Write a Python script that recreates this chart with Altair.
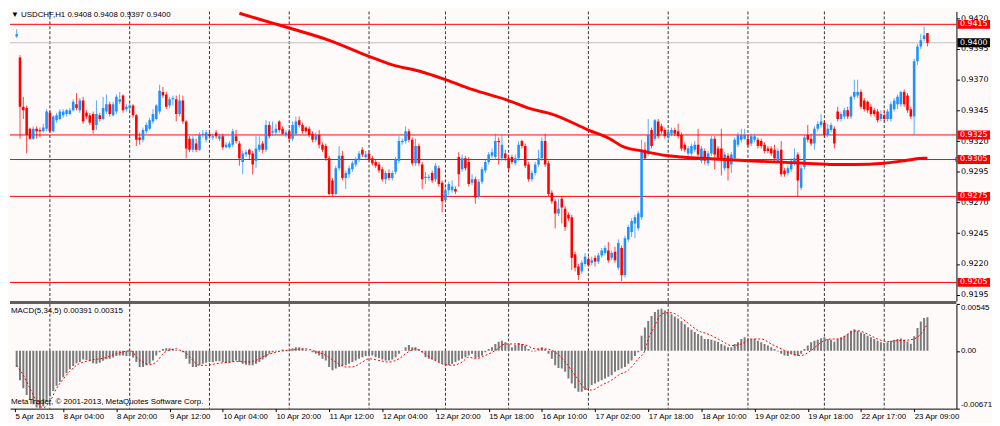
import altair as alt
import pandas as pd

# ---------------- data (prices in pips: price * 10000) ----------------
OPEN = [9408, 9406, 9405, 9388, 9348, 9347, 9330, 9322, 9330, 9329,
        9328, 9330, 9343, 9328, 9337, 9338, 9341, 9342, 9342, 9345,
        9350, 9345, 9353, 9343, 9341, 9342, 9333, 9341, 9338, 9344,
        9350, 9341, 9344, 9352, 9357, 9346, 9347, 9349, 9341, 9323,
        9321, 9328, 9330, 9336, 9338, 9344, 9360, 9358, 9349, 9354,
        9354, 9342, 9353, 9336, 9322, 9313, 9318, 9313, 9325, 9321,
        9326, 9323, 9327, 9322, 9324, 9315, 9315, 9317, 9324, 9318,
        9303, 9309, 9313, 9310, 9304, 9313, 9318, 9313, 9333, 9327,
        9327, 9336, 9330, 9325, 9328, 9322, 9326, 9337, 9333, 9331,
        9330, 9326, 9321, 9325, 9317, 9316, 9306, 9288, 9277, 9298,
        9308, 9290, 9293, 9297, 9301, 9305, 9313, 9307, 9310, 9306,
        9303, 9301, 9297, 9289, 9294, 9290, 9295, 9304, 9319, 9320,
        9328, 9321, 9302, 9316, 9301, 9290, 9290, 9294, 9289, 9298,
        9286, 9272, 9280, 9280, 9281, 9307, 9297, 9306, 9303, 9286,
        9289, 9275, 9287, 9296, 9303, 9308, 9307, 9320, 9306, 9310,
        9306, 9307, 9302, 9306, 9320, 9316, 9301, 9289, 9294, 9301,
        9306, 9320, 9302, 9278, 9271, 9261, 9273, 9265, 9260, 9258,
        9228, 9218, 9214, 9220, 9224, 9221, 9225, 9222, 9227, 9229,
        9231, 9225, 9230, 9217, 9233, 9211, 9240, 9246, 9253, 9249,
        9258, 9313, 9310, 9329, 9322, 9336, 9332, 9329, 9323, 9326,
        9329, 9328, 9325, 9317, 9310, 9310, 9313, 9317, 9304, 9312,
        9302, 9310, 9322, 9314, 9314, 9298, 9308, 9301, 9306, 9317,
        9321, 9322, 9322, 9318, 9321, 9321, 9320, 9317, 9314, 9314,
        9313, 9304, 9313, 9296, 9294, 9297, 9302, 9309, 9282, 9299,
        9325, 9322, 9318, 9330, 9333, 9335, 9325, 9329, 9330, 9344,
        9338, 9340, 9345, 9340, 9356, 9357, 9360, 9353, 9352, 9348,
        9345, 9344, 9338, 9341, 9338, 9338, 9346, 9350, 9350, 9360,
        9357, 9346, 9340, 9385, 9397, 9403, 9408]
HIGH = [9409, 9407, 9411, 9390, 9356, 9349, 9331, 9332, 9332, 9331,
        9334, 9346, 9345, 9341, 9343, 9346, 9346, 9346, 9347, 9354,
        9359, 9355, 9356, 9345, 9343, 9344, 9353, 9343, 9356, 9358,
        9352, 9352, 9358, 9360, 9358, 9350, 9351, 9350, 9342, 9327,
        9331, 9335, 9339, 9346, 9350, 9366, 9364, 9360, 9356, 9357,
        9357, 9358, 9357, 9337, 9324, 9324, 9322, 9327, 9329, 9329,
        9329, 9326, 9329, 9326, 9326, 9319, 9320, 9330, 9329, 9320,
        9312, 9313, 9314, 9312, 9324, 9324, 9320, 9337, 9336, 9336,
        9334, 9337, 9332, 9329, 9330, 9336, 9340, 9340, 9335, 9332,
        9332, 9328, 9327, 9329, 9319, 9318, 9308, 9290, 9300, 9316,
        9312, 9296, 9300, 9304, 9307, 9312, 9315, 9312, 9312, 9308,
        9305, 9303, 9299, 9296, 9297, 9296, 9307, 9324, 9322, 9332,
        9330, 9323, 9322, 9318, 9303, 9295, 9293, 9296, 9302, 9300,
        9288, 9282, 9287, 9288, 9283, 9311, 9309, 9308, 9307, 9293,
        9291, 9289, 9299, 9305, 9311, 9314, 9326, 9323, 9325, 9313,
        9308, 9309, 9309, 9320, 9321, 9318, 9303, 9296, 9303, 9313,
        9323, 9326, 9304, 9280, 9273, 9273, 9275, 9267, 9262, 9260,
        9230, 9220, 9223, 9229, 9226, 9226, 9227, 9229, 9233, 9235,
        9238, 9231, 9234, 9240, 9235, 9243, 9252, 9257, 9260, 9263,
        9321, 9319, 9338, 9331, 9338, 9338, 9334, 9331, 9330, 9331,
        9331, 9334, 9327, 9319, 9316, 9318, 9320, 9330, 9316, 9314,
        9312, 9324, 9324, 9316, 9330, 9311, 9310, 9311, 9323, 9327,
        9330, 9330, 9325, 9326, 9326, 9323, 9322, 9319, 9316, 9316,
        9317, 9314, 9320, 9298, 9300, 9306, 9314, 9311, 9300, 9325,
        9333, 9326, 9332, 9336, 9342, 9337, 9334, 9335, 9332, 9348,
        9344, 9347, 9348, 9357, 9370, 9370, 9362, 9355, 9353, 9350,
        9347, 9346, 9345, 9345, 9346, 9352, 9355, 9358, 9361, 9362,
        9359, 9348, 9387, 9399, 9407, 9413, 9408]
LOW = [9400, 9397, 9404, 9322, 9338, 9310, 9321, 9321, 9322, 9323,
       9327, 9328, 9327, 9327, 9335, 9337, 9339, 9340, 9341, 9344,
       9345, 9343, 9334, 9338, 9333, 9326, 9329, 9336, 9337, 9342,
       9340, 9340, 9342, 9350, 9343, 9344, 9345, 9339, 9316, 9317,
       9319, 9326, 9329, 9334, 9337, 9342, 9355, 9346, 9347, 9349,
       9336, 9340, 9334, 9306, 9311, 9311, 9311, 9312, 9323, 9319,
       9322, 9321, 9322, 9320, 9313, 9314, 9314, 9315, 9318, 9300,
       9293, 9307, 9305, 9293, 9298, 9311, 9310, 9311, 9322, 9324,
       9325, 9327, 9325, 9323, 9320, 9320, 9324, 9331, 9326, 9326,
       9323, 9319, 9319, 9314, 9311, 9304, 9276, 9275, 9276, 9296,
       9288, 9281, 9290, 9295, 9299, 9303, 9307, 9305, 9303, 9300,
       9298, 9294, 9287, 9285, 9288, 9288, 9293, 9302, 9317, 9318,
       9319, 9300, 9300, 9300, 9281, 9285, 9288, 9286, 9287, 9283,
       9262, 9270, 9276, 9278, 9277, 9283, 9295, 9296, 9283, 9284,
       9269, 9273, 9285, 9294, 9301, 9306, 9305, 9301, 9304, 9304,
       9296, 9301, 9300, 9304, 9314, 9298, 9287, 9287, 9292, 9299,
       9304, 9299, 9275, 9269, 9249, 9259, 9253, 9247, 9255, 9215,
       9214, 9207, 9212, 9218, 9218, 9219, 9218, 9220, 9225, 9227,
       9221, 9223, 9221, 9215, 9206, 9209, 9238, 9242, 9241, 9247,
       9256, 9305, 9308, 9314, 9320, 9322, 9326, 9322, 9321, 9324,
       9324, 9322, 9312, 9311, 9308, 9308, 9311, 9307, 9302, 9301,
       9300, 9308, 9297, 9304, 9292, 9296, 9288, 9294, 9304, 9315,
       9319, 9321, 9315, 9316, 9319, 9314, 9314, 9310, 9310, 9308,
       9304, 9302, 9291, 9291, 9292, 9295, 9300, 9275, 9280, 9297,
       9319, 9316, 9313, 9328, 9331, 9323, 9323, 9327, 9314, 9336,
       9336, 9338, 9338, 9338, 9354, 9355, 9346, 9344, 9343, 9340,
       9340, 9335, 9336, 9336, 9336, 9336, 9344, 9346, 9348, 9348,
       9343, 9338, 9325, 9382, 9395, 9401, 9397]
CLOSE = [9404, 9405, 9407, 9348, 9345, 9325, 9322, 9330, 9328, 9328,
         9331, 9344, 9328, 9340, 9341, 9344, 9344, 9345, 9345, 9352,
         9347, 9353, 9336, 9340, 9335, 9329, 9342, 9338, 9347, 9350,
         9342, 9350, 9356, 9354, 9345, 9348, 9349, 9341, 9321, 9321,
         9329, 9333, 9337, 9342, 9349, 9361, 9357, 9348, 9354, 9355,
         9342, 9353, 9336, 9314, 9313, 9322, 9313, 9325, 9326, 9327,
         9324, 9324, 9324, 9324, 9315, 9317, 9318, 9328, 9320, 9306,
         9310, 9311, 9309, 9301, 9314, 9317, 9313, 9333, 9324, 9328,
         9330, 9329, 9326, 9327, 9322, 9333, 9336, 9333, 9328, 9328,
         9325, 9321, 9325, 9317, 9313, 9306, 9277, 9277, 9298, 9308,
         9290, 9294, 9298, 9302, 9305, 9310, 9309, 9309, 9305, 9302,
         9300, 9296, 9289, 9294, 9290, 9294, 9305, 9320, 9320, 9328,
         9321, 9302, 9316, 9302, 9289, 9291, 9291, 9288, 9300, 9285,
         9271, 9280, 9285, 9283, 9279, 9293, 9306, 9298, 9285, 9289,
         9274, 9287, 9297, 9303, 9309, 9311, 9320, 9319, 9317, 9306,
         9298, 9303, 9306, 9317, 9316, 9300, 9289, 9294, 9301, 9306,
         9320, 9301, 9277, 9271, 9261, 9265, 9266, 9250, 9257, 9225,
         9217, 9211, 9221, 9226, 9219, 9223, 9222, 9227, 9231, 9233,
         9223, 9229, 9223, 9237, 9211, 9241, 9250, 9255, 9258, 9261,
         9313, 9306, 9325, 9316, 9337, 9324, 9328, 9324, 9327, 9329,
         9326, 9324, 9314, 9313, 9314, 9316, 9317, 9309, 9314, 9304,
         9310, 9322, 9309, 9306, 9306, 9309, 9298, 9309, 9321, 9325,
         9325, 9325, 9317, 9324, 9324, 9316, 9316, 9312, 9312, 9310,
         9306, 9312, 9293, 9293, 9298, 9304, 9306, 9288, 9298, 9323,
         9321, 9318, 9330, 9334, 9336, 9325, 9330, 9333, 9318, 9338,
         9342, 9345, 9340, 9356, 9360, 9360, 9348, 9346, 9345, 9342,
         9342, 9337, 9342, 9338, 9344, 9350, 9353, 9356, 9360, 9350,
         9345, 9340, 9385, 9397, 9402, 9406, 9400]

# MACD histogram, units of 0.00001
MACD_HIST = [-168, -176, -187, -340, -435, -512, -569, -619, -657, -671,
             -646, -588, -531, -466, -405, -359, -306, -260, -214, -176,
             -145, -130, -99, -107, -122, -145, -149, -138, -115, -96,
             -92, -76, -61, -53, -53, -61, -61, -76, -130, -187,
             -187, -168, -149, -111, -53, -15, 23, 31, 31, 23,
             11, 4, -15, -92, -149, -187, -187, -168, -149, -138,
             -130, -130, -122, -122, -130, -141, -141, -130, -111, -130,
             -149, -160, -168, -168, -149, -130, -99, -73, -34, -15,
             -8, 4, 15, 4, 11, 31, 42, 42, 31, 15,
             4, -15, -34, -53, -92, -111, -187, -225, -206, -187,
             -176, -168, -149, -130, -111, -92, -73, -61, -53, -53,
             -73, -84, -99, -111, -111, -99, -73, -34, 4, 42,
             69, 42, 42, 23, -15, -73, -92, -99, -111, -130,
             -149, -168, -168, -149, -130, -111, -92, -73, -53, -34,
             -84, -73, -53, -15, 23, 42, 80, 107, 118, 99,
             80, 42, 69, 92, 80, 61, 23, -8, -8, 23,
             42, 23, -34, -92, -168, -199, -206, -244, -321, -378,
             -435, -474, -474, -455, -435, -397, -378, -359, -340, -321,
             -302, -283, -244, -225, -206, -187, -149, -111, -60, -15,
             176, 271, 348, 405, 451, 481, 489, 470, 450, 425,
             400, 375, 345, 310, 275, 245, 220, 195, 176, 138,
             138, 130, 118, 107, 80, 61, 42, 42, 80, 99,
             138, 157, 145, 138, 138, 118, 99, 80, 61, 42,
             23, -8, -34, -53, -61, -34, -53, -61, -34, 23,
             61, 99, 118, 130, 145, 157, 138, 130, 107, 138,
             157, 176, 195, 233, 252, 233, 214, 195, 176, 157,
             138, 118, 99, 92, 99, 118, 130, 138, 143, 130,
             110, 83, 170, 266, 342, 381, 391]

# MACD signal line (read at these bars), units of 0.00001
SIG_I = [2, 4, 6, 8, 10, 12, 14, 16, 18, 20, 24, 27, 29, 31, 33, 36, 37, 38, 40,
         42, 44, 46, 48, 50, 51, 53, 55, 57, 59, 62, 66, 69, 71, 74, 77, 80, 83, 86, 89,
         92, 95, 98, 101, 103, 106, 108, 111, 114, 117, 120, 122, 124, 127, 130, 133, 136,
         138, 140, 143, 146, 149, 152, 155, 158, 161, 164, 167, 170, 173, 175, 178, 181,
         183, 186, 189, 191, 192, 194, 195, 197, 199, 202, 205, 207, 210, 214, 217, 220,
         223, 226, 229, 232, 235, 238, 241, 244, 247, 250, 252, 255, 258, 261, 264, 267,
         270, 272, 274, 276]
SIG_V = [-168, -283, -435, -588, -660, -588, -435, -329, -237, -168, -111, -92, -76,
         -46, -23, 0, -15, -73, -130, -160, -130, -34, 11, 23, 11, -27, -111, -168, -168,
         -149, -130, -122, -130, -111, -53, -15, 4, 15, 23, -8, -53, -130, -187, -187,
         -130, -92, -111, -130, -92, -8, 23, -15, -92, -149, -168, -130, -73, -92, -53,
         4, 80, 80, 69, 23, 23, -15, -130, -283, -435, -455, -397, -340, -283, -225, -92,
         4, 137, 290, 380, 440, 443, 380, 290, 235, 195, 118, 61, 80, 138, 138, 80, 23,
         -34, -53, 4, 99, 138, 138, 195, 233, 195, 138, 107, 118, 125, 138, 195, 315]

# moving average (red thick line), read at these bars, pips (enters at the top edge)
MA_I = [69, 79, 84, 96, 108, 115, 123, 131, 139, 150, 157, 163, 174, 181, 184,
        190, 198, 202, 208, 222, 239, 248, 254, 263, 269, 275, 276]
MA_V = [9424, 9416, 9412, 9402, 9389, 9382, 9377, 9370, 9362, 9353, 9346, 9342,
        9329, 9321, 9316, 9312, 9308, 9307, 9306, 9304, 9302, 9301, 9301, 9302, 9304,
        9306, 9306]

LEVELS = [9415, 9325, 9305, 9275, 9205]
BID = 9400
PRICE_TICKS = [9420, 9395, 9370, 9345, 9320, 9295, 9270, 9245, 9220, 9195]
GRID_BARS = [12, 36, 60, 84, 108, 131, 150, 174, 198, 222, 245, 263]
TICK_BARS = [0, 16, 32, 48, 64, 80, 96, 112, 128, 144, 160, 176, 192, 208, 224, 240, 256, 272]
TICK_LABELS = ["5 Apr 2013", "8 Apr 04:00", "8 Apr 20:00", "9 Apr 12:00", "10 Apr 04:00",
               "10 Apr 20:00", "11 Apr 12:00", "12 Apr 04:00", "12 Apr 20:00",
               "15 Apr 18:00", "16 Apr 10:00", "17 Apr 02:00", "17 Apr 18:00",
               "18 Apr 10:00", "19 Apr 02:00", "19 Apr 18:00", "22 Apr 17:00",
               "23 Apr 09:00"]
MACD_TICKS = [545, 0, -671]
MACD_TICK_LABELS = ["0.00545", "0.00", "-0.00671"]

HEADER = "\u25BC USDCHF,H1  0.9408 0.9408 0.9397 0.9400"
MACD_LABEL = "MACD(5,34,5) 0.00391 0.00315"
COPYRIGHT = "MetaTrader, \u00A9 2001-2013, MetaQuotes Software Corp."

# ---------------- layout ----------------
FONT = "Liberation Sans"
NUMFONT = "DejaVu Sans"
FS = 8
W = 958
H_MAIN = 293
H_MACD = 106
X0 = 5 / 3.4
X1 = 963 / 3.4
FIRST = 2  # first bar inside the visible window
BG = "#FFFAFA"

n = len(CLOSE)
bars = pd.DataFrame({
    "i": list(range(n)),
    "o": [v / 1e4 for v in OPEN],
    "h": [v / 1e4 for v in HIGH],
    "l": [v / 1e4 for v in LOW],
    "c": [v / 1e4 for v in CLOSE],
    "col": ["#1E90FF" if c > o else "#FF0000" for o, c in zip(OPEN, CLOSE)],
    "m": [v / 1e5 for v in MACD_HIST],
})
sig_df = pd.DataFrame({"i": SIG_I, "s": [v / 1e5 for v in SIG_V]})
ma_df = pd.DataFrame({"i": MA_I, "p": [v / 1e4 for v in MA_V]})
lev_df = pd.DataFrame({"p": [v / 1e4 for v in LEVELS]})
bid_df = pd.DataFrame({"p": [BID / 1e4]})
grid_df = pd.DataFrame({"i": GRID_BARS})
box_df = pd.DataFrame({
    "p": [v / 1e4 for v in LEVELS] + [BID / 1e4],
    "bg": ["#FF0000"] * len(LEVELS) + ["#000000"],
    "lab": [f"{v / 1e4:.4f}" for v in LEVELS] + [f"{BID / 1e4:.4f}"],
})
sq_df = pd.DataFrame({"p": [9305 / 1e4]})

xs = alt.Scale(domain=[X0, X1], nice=False, zero=False)
ys = alt.Scale(domain=[0.918992, 0.942545], nice=False, zero=False)
ms = alt.Scale(domain=[MACD_TICKS[2] / 1e5, MACD_TICKS[0] / 1e5], nice=False, zero=False)

yaxis = alt.Axis(orient="right", values=[v / 1e4 for v in PRICE_TICKS], format=".4f",
                 title=None, grid=False, tickSize=3, labelPadding=1, labelFlush=False,
                 labelOverlap=False, domainColor="black", tickColor="black",
                 labelFont=NUMFONT, labelFontSize=8)
lab_js = "[" + ",".join(f"'{t}'" for t in TICK_LABELS) + "]"
xaxis = alt.Axis(orient="bottom", values=[max(b, X0 + 0.03) for b in TICK_BARS],
                 labelExpr=f"{lab_js}[round(datum.value/16)]", title=None, grid=False,
                 tickSize=3, labelAlign="left", labelBaseline="top", labelPadding=1,
                 labelOverlap=False, labelBound=False, labelFlush=False,
                 domainColor="black", tickColor="black", labelFont=FONT, labelFontSize=8)
mlab_js = "[" + ",".join(f"'{t}'" for t in MACD_TICK_LABELS) + "]"
maxis = alt.Axis(orient="right", values=[v / 1e5 for v in MACD_TICKS],
                 labelExpr=f"datum.value > 0.001 ? {mlab_js}[0] : (datum.value < -0.001 ? {mlab_js}[2] : {mlab_js}[1])",
                 title=None, grid=False, tickSize=3, labelPadding=1, labelFlush=True,
                 labelOverlap=False, domainColor="black", tickColor="black",
                 labelFont=FONT, labelFontSize=8)

XM = alt.X("i:Q", scale=xs, axis=None)
visible = alt.datum.i >= FIRST

grid_main = alt.Chart(grid_df).mark_rule(color="#333333", strokeDash=[3, 2], strokeWidth=1).encode(x=XM)
lev = alt.Chart(lev_df).mark_rule(color="#FF0000", strokeWidth=1).encode(
    y=alt.Y("p:Q", scale=ys, axis=yaxis))
bid = alt.Chart(bid_df).mark_rule(color="#C0C0C0", strokeWidth=1).encode(
    y=alt.Y("p:Q", scale=ys, axis=yaxis))
wicks = alt.Chart(bars).transform_filter(visible).mark_rule(strokeWidth=1, opacity=0.75, clip=True).encode(
    x=XM, y=alt.Y("l:Q", scale=ys, axis=yaxis), y2="h:Q",
    color=alt.Color("col:N", scale=None))
bodies = alt.Chart(bars).transform_filter(visible).mark_bar(width=2.6, clip=True).encode(
    x=XM, y=alt.Y("o:Q", scale=ys, axis=yaxis), y2="c:Q",
    color=alt.Color("col:N", scale=None))
ma = alt.Chart(ma_df).mark_line(color="#FF0000", strokeWidth=3, clip=True,
                                interpolate="monotone").encode(
    x=XM, y=alt.Y("p:Q", scale=ys, axis=yaxis))
sep = alt.Chart(bid_df).mark_rule(color="#606060", strokeWidth=3).encode(
    x=alt.value(0), x2=alt.value(W), y=alt.value(H_MAIN + 1.5))
boxes = alt.Chart(box_df).mark_tick(orient="horizontal", thickness=9, size=33, opacity=1).encode(
    x=alt.value(W + 17.5), y=alt.Y("p:Q", scale=ys, axis=yaxis),
    color=alt.Color("bg:N", scale=None))
box_txt = alt.Chart(box_df).mark_text(align="left", baseline="middle", color="white",
                                      font=NUMFONT, fontSize=8).encode(
    x=alt.value(W + 3.5), y=alt.Y("p:Q", scale=ys, axis=yaxis), text="lab:N")
square = alt.Chart(sq_df).mark_square(filled=False, size=16, color="#FF0000", strokeWidth=1).encode(
    x=alt.value(W + 1), y=alt.Y("p:Q", scale=ys, axis=yaxis))
header = alt.Chart(pd.DataFrame({"t": [HEADER]})).mark_text(
    align="left", baseline="top", font=FONT, fontSize=FS, color="black").encode(
    x=alt.value(1), y=alt.value(0), text="t:N")

main = alt.layer(grid_main, lev, bid, wicks, bodies, ma, sep, boxes, box_txt, square,
                 header).properties(width=W, height=H_MAIN)

XB = alt.X("i:Q", scale=xs, axis=xaxis)
grid_macd = alt.Chart(grid_df).mark_rule(color="#333333", strokeDash=[3, 2], strokeWidth=1).encode(x=XB)
hist = alt.Chart(bars).transform_filter(visible).mark_bar(width=2, color="#7a7a7a", clip=True).encode(
    x=XB, y=alt.Y("m:Q", scale=ms, axis=maxis), y2=alt.datum(0))
sig = alt.Chart(sig_df).mark_line(color="#FF0000", strokeDash=[2, 2], strokeWidth=1,
                                  interpolate="monotone", clip=True).encode(
    x=XB, y=alt.Y("s:Q", scale=ms, axis=maxis))
mlabel = alt.Chart(pd.DataFrame({"t": [MACD_LABEL]})).mark_text(
    align="left", baseline="top", font=FONT, fontSize=FS, color="black").encode(
    x=alt.value(1), y=alt.value(3), text="t:N")
copy = alt.Chart(pd.DataFrame({"t": [COPYRIGHT]})).mark_text(
    align="left", baseline="top", font=FONT, fontSize=FS, color="black").encode(
    x=alt.value(1), y=alt.value(H_MACD - 11), text="t:N")

macd = alt.layer(grid_macd, hist, sig, mlabel, copy).properties(width=W, height=H_MACD)

chart = alt.vconcat(main, macd, spacing=3, bounds="flush").properties(
    padding=0, background=BG
).configure_view(stroke=None).configure_axis(
    labelColor="black"
)

chart.save("out.html", embed_options={"renderer": "svg", "actions": False})
